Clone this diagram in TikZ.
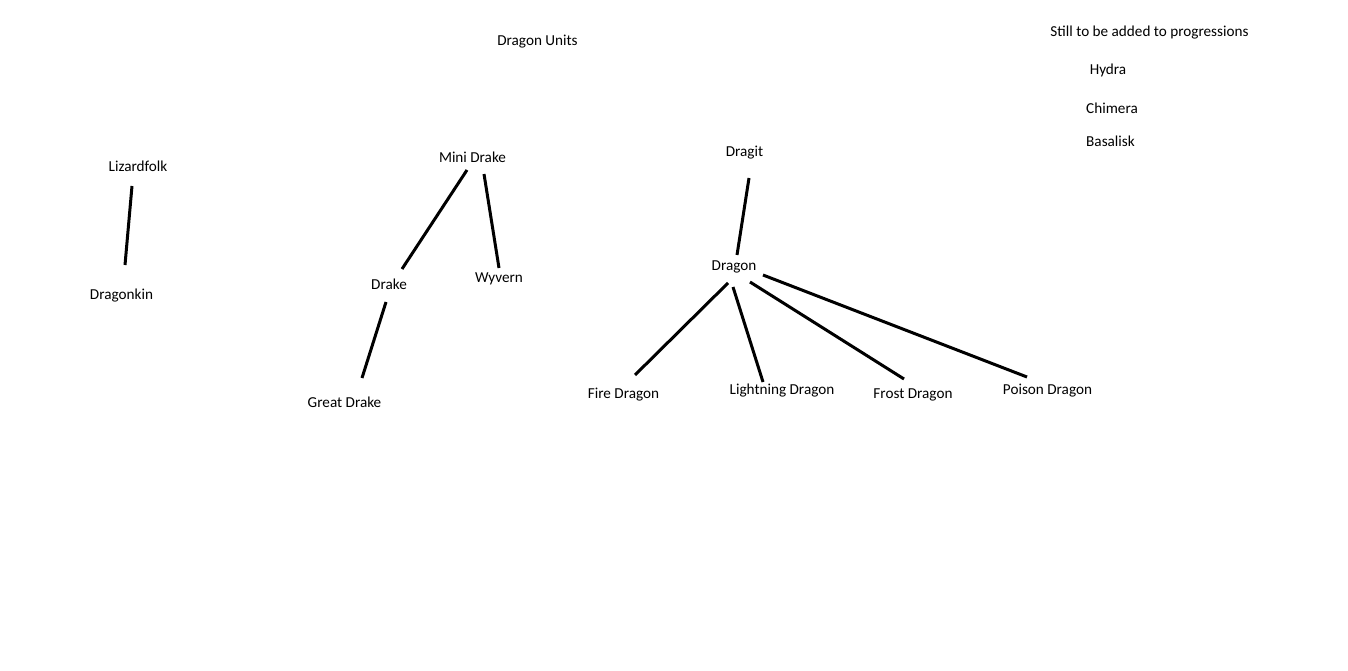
\documentclass[tikz,border=0pt]{standalone}
\usepackage{fontspec}
\setmainfont{Carlito}
\begin{document}
\begin{tikzpicture}[x=1pt,y=-1pt,
  lbl/.style={inner sep=0pt,yshift=-1pt,font=\fontsize{15.2}{18}\selectfont},
  link/.style={line width=3pt,black}]
\useasboundingbox[fill=white] (0,0) rectangle (1348,671);
% labels
\node[lbl] (title) at (537.5,41) {Dragon Units};
\node[lbl] (still) at (1149.5,32) {Still to be added to progressions};
\node[lbl] (hydra) at (1108,69) {Hydra};
\node[lbl] (chimera) at (1112,107) {Chimera};
\node[lbl] (basalisk) at (1110.5,140) {Basalisk};
\node[lbl] (lizard) at (138,165) {Lizardfolk};
\node[lbl] (dragonkin) at (121.5,295) {Dragonkin};
\node[lbl] (mini) at (472.5,156) {Mini Drake};
\node[lbl] (drake) at (389,283) {Drake};
\node[lbl] (wyvern) at (499,278) {Wyvern};
\node[lbl] (great) at (344.5,401) {Great Drake};
\node[lbl] (dragit) at (744.5,152) {Dragit};
\node[lbl] (dragon) at (734,266) {Dragon};
\node[lbl] (fire) at (623.5,394) {Fire Dragon};
\node[lbl] (light) at (782,390) {Lightning Dragon};
\node[lbl] (frost) at (913,394) {Frost Dragon};
\node[lbl] (poison) at (1047.5,390) {Poison Dragon};
% connector end points
\coordinate (lz1) at (132,186); \coordinate (lz2) at (125,265);
\coordinate (md1) at (467,170); \coordinate (md2) at (402,269);
\coordinate (mw1) at (484,174); \coordinate (mw2) at (499,268);
\coordinate (dg1) at (386,302); \coordinate (dg2) at (362,378);
\coordinate (dd1) at (749,178); \coordinate (dd2) at (737,255);
\coordinate (df1) at (728,283); \coordinate (df2) at (635,375);
\coordinate (dl1) at (733,287); \coordinate (dl2) at (763,382);
\coordinate (dr1) at (750,282); \coordinate (dr2) at (904,379);
\coordinate (dp1) at (763,275); \coordinate (dp2) at (1027,377);
% connectors
\draw[link] (lz1) -- (lz2);
\draw[link] (md1) -- (md2);
\draw[link] (mw1) -- (mw2);
\draw[link] (dg1) -- (dg2);
\draw[link] (dd1) -- (dd2);
\draw[link] (df1) -- (df2);
\draw[link] (dl1) -- (dl2);
\draw[link] (dr1) -- (dr2);
\draw[link] (dp1) -- (dp2);
\end{tikzpicture}
\end{document}
